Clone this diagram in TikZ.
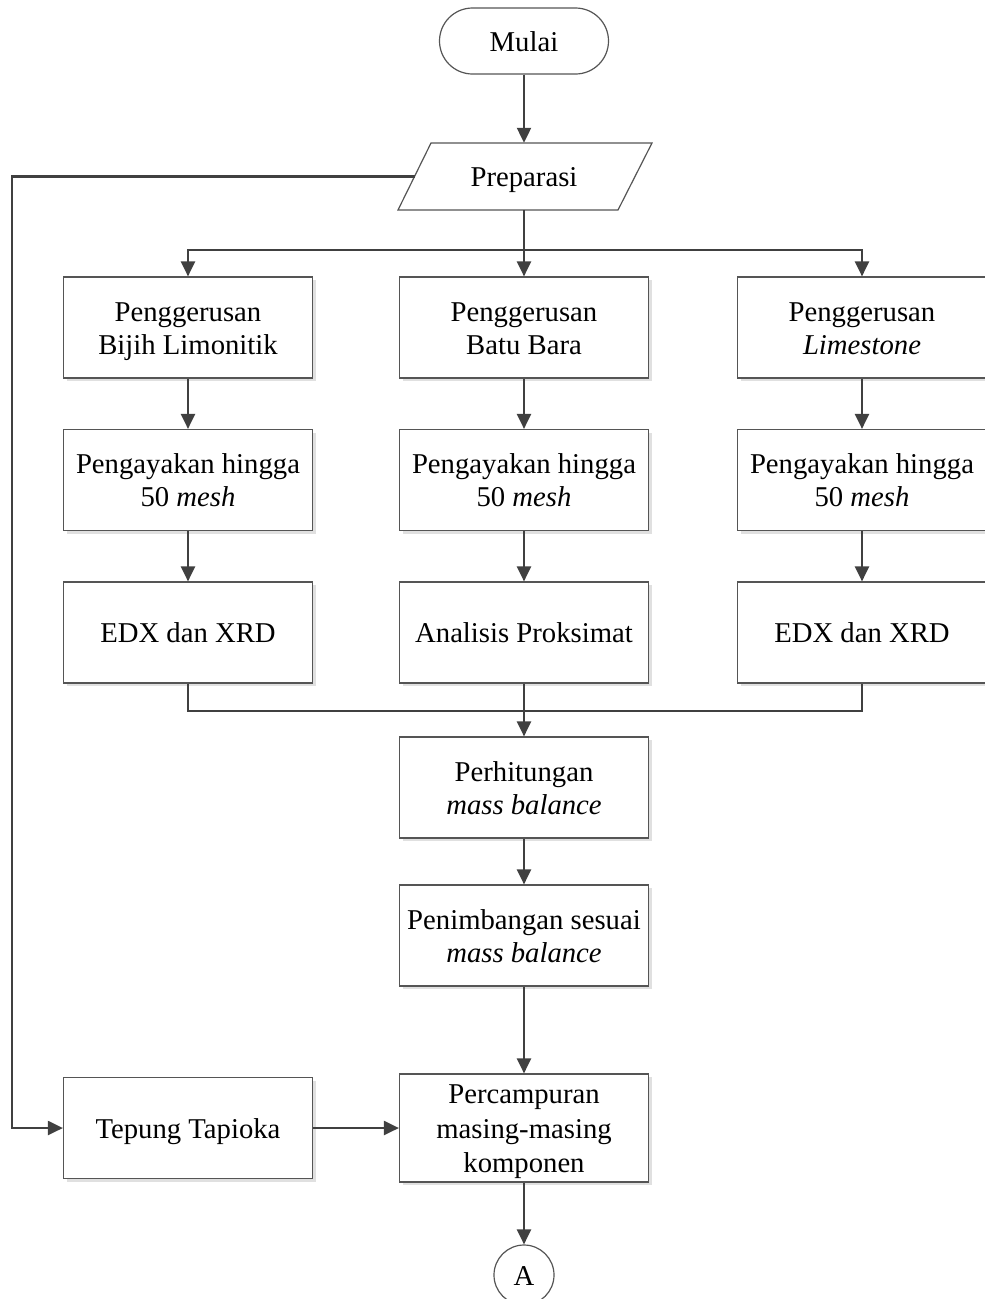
\documentclass[tikz,border=0pt]{standalone}
\usepackage{fontspec}
\setmainfont{Liberation Serif}
\usetikzlibrary{arrows.meta,shadows}
\definecolor{lc}{HTML}{404040}
\definecolor{bc}{HTML}{555555}
\newcommand\zs{\rule[-6.5pt]{0pt}{33pt}}
\tikzset{
  box/.style={draw=bc,line width=1.2pt,fill=white,rectangle,minimum width=249pt,minimum height=101pt,align=center,inner sep=0pt,
    font=\fontsize{28.7}{33}\selectfont,
    drop shadow={shadow xshift=3pt,shadow yshift=-3pt,fill=black!12,opacity=1}},
  conn/.style={draw=lc,line width=2.2pt},
  arr/.style={conn,-{Triangle[length=15pt,width=14pt]}},
  txt/.style={font=\fontsize{28.7}{33}\selectfont,inner sep=0pt}
}
\begin{document}
\begin{tikzpicture}[x=1pt,y=-1pt]
\useasboundingbox (0,0) rectangle (985,1299);
% start
\node[draw=bc,line width=1.2pt,rounded corners=33pt,minimum width=169pt,minimum height=66pt,txt] (start) at (524,41) {\zs Mulai};
% preparasi
\draw[draw=bc,line width=1.2pt,fill=white] (398,210) -- (431,143) -- (652,143) -- (618,210) -- cycle;
\node[txt,minimum width=190pt,minimum height=67pt] (prep) at (524,176.5) {\zs Preparasi};
\coordinate (prepL) at (414.5,176.5);
% column boxes
\node[box] (b11) at (188,327.5) {Penggerusan\zs\\Bijih Limonitik\zs};
\node[box] (b21) at (524,327.5) {Penggerusan\zs\\Batu Bara\zs};
\node[box] (b31) at (862,327.5) {Penggerusan\zs\\\textit{Limestone}\zs};
\node[box] (b12) at (188,480) {Pengayakan hingga\zs\\50 \textit{mesh}\zs};
\node[box] (b22) at (524,480) {Pengayakan hingga\zs\\50 \textit{mesh}\zs};
\node[box] (b32) at (862,480) {Pengayakan hingga\zs\\50 \textit{mesh}\zs};
\node[box] (b13) at (188,632.5) {EDX dan XRD\zs};
\node[box] (b23) at (524,632.5) {Analisis Proksimat\zs};
\node[box] (b33) at (862,632.5) {EDX dan XRD\zs};
\node[box] (perh) at (524,787.5) {Perhitungan\zs\\\textit{mass balance}\zs};
\node[box] (penim) at (524,935.5) {Penimbangan sesuai\zs\\\textit{mass balance}\zs};
\node[box,minimum height=108pt,font=\fontsize{28.7}{34.5}\selectfont] (perc) at (524,1128) {Percampuran\zs\\masing-masing\zs\\komponen\zs};
\node[box] (tep) at (188,1128) {Tepung Tapioka\zs};
\node[draw=bc,line width=1.2pt,circle,minimum size=60pt,txt] (A) at (524,1275) {\zs A};
% connectors
\draw[arr] (start) -- (prep.north);
\draw[arr] (prepL) -- (12,176.5) |- (tep.west);
\draw[conn] (prep.south) -- (524,250);
\draw[arr] (524,250) -| (b11.north);
\draw[arr] (524,250) -| (b31.north);
\draw[arr] (524,250) -- (b21.north);
\draw[arr] (b11) -- (b12);
\draw[arr] (b21) -- (b22);
\draw[arr] (b31) -- (b32);
\draw[arr] (b12) -- (b13);
\draw[arr] (b22) -- (b23);
\draw[arr] (b32) -- (b33);
\draw[conn] (b13.south) |- (524,711) -| (b33.south);
\draw[arr] (b23) -- (perh);
\draw[arr] (perh) -- (penim);
\draw[arr] (penim) -- (perc);
\draw[arr] (tep) -- (perc);
\draw[arr] (perc.south) -- (A.north);
\end{tikzpicture}
\end{document}
